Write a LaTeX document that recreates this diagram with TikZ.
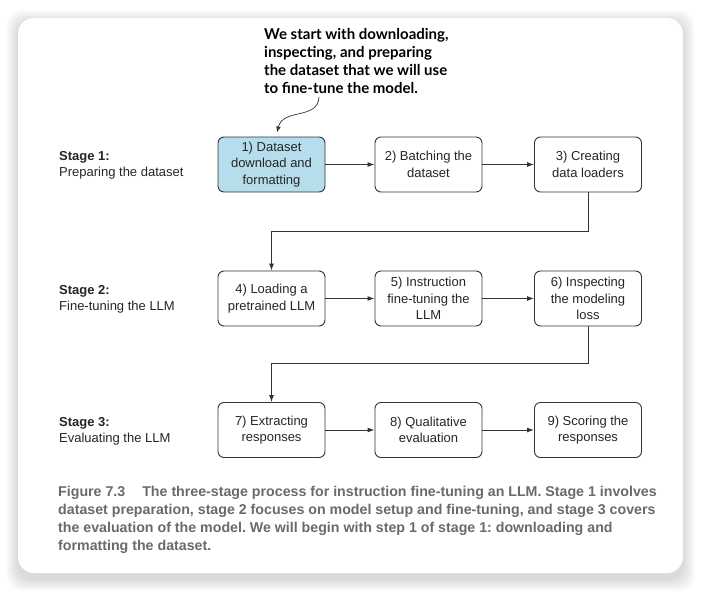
\documentclass[tikz,border=0pt]{standalone}
\usepackage{fontspec}
\setmainfont{Liberation Sans}
\newfontfamily\notefont{Lato}
\usetikzlibrary{arrows.meta}
\definecolor{boxblue}{HTML}{B5DDEB}
\definecolor{capgray}{HTML}{6A6A6A}
\definecolor{linegray}{HTML}{333333}
\frenchspacing
\begin{document}
\begin{tikzpicture}[x=1pt, y=-1pt,
        stepbox/.style={draw=linegray, line width=0.9pt, rounded corners=6pt, minimum width=107pt, minimum height=55pt, inner sep=0pt, align=center, text=black!85, font=\fontsize{13}{16.5}\selectfont},
        arr/.style={draw=linegray, line width=1pt, -{Latex[length=7pt,width=5pt]}},
        stagelbl/.style={anchor=base west, inner sep=0pt, text=black!85, font=\fontsize{13}{16}\selectfont}]

            \useasboundingbox (0, 0) rectangle (702, 592);

            \fill[white] (0, 0) rectangle (702, 592);

            \foreach \s in {1,...,12}
                \fill[black, opacity=0.013, rounded corners=16pt] (18-\s, 22-\s) rectangle (683+\s, 579+\s);

            \fill[white, rounded corners=16pt] (18, 18) rectangle (683, 573);

            \node[anchor=north west, inner sep=0pt, align=left, font=\notefont\bfseries\fontsize{15}{18.2}\selectfont] (note) at (264, 28) {We start with downloading,\\inspecting, and preparing\\the dataset that we will use\\to fine-tune the model.};

            \node[stagelbl] (s1) at (59, 160) {\textbf{Stage 1:}};
            \node[stagelbl] (s1b) at (59, 176) {Preparing the dataset};

            \node[stagelbl] (s2) at (59, 294) {\textbf{Stage 2:}};
            \node[stagelbl] (s2b) at (59, 310) {Fine-tuning the LLM};

            \node[stagelbl] (s3) at (59, 426) {\textbf{Stage 3:}};
            \node[stagelbl] (s3b) at (59, 442) {Evaluating the LLM};

            \node[stepbox, fill=boxblue] (dl) at (271.5, 164.5) {1) Dataset\\download and\\formatting};
            \node[stepbox] (batch) at (428.5, 164.5) {2) Batching the\\dataset};
            \node[stepbox] (loaders) at (588, 164.5) {3) Creating\\data loaders};

            \node[stepbox] (loadllm) at (271.5, 298.5) {4) Loading a\\pretrained LLM};
            \node[stepbox] (tune) at (428.5, 298.5) {5) Instruction\\fine-tuning the\\LLM};
            \node[stepbox] (loss) at (588, 298.5) {6) Inspecting\\the modeling\\loss};

            \node[stepbox] (extract) at (271.5, 430) {7) Extracting\\responses};
            \node[stepbox] (qual) at (428.5, 430) {8) Qualitative\\evaluation};
            \node[stepbox] (score) at (588, 430) {9) Scoring the\\responses};

            \draw[arr] (dl) -- (batch);
            \draw[arr] (batch) -- (loaders);
            \draw[arr] (loadllm) -- (tune);
            \draw[arr] (tune) -- (loss);
            \draw[arr] (extract) -- (qual);
            \draw[arr] (qual) -- (score);

            \draw[arr] (loaders.south) -- ++(0, 39) -| (loadllm.north);
            \draw[arr] (loss.south) -- ++(0, 37) -| (extract.north);

            \coordinate (notetail) at (319, 97);
            \draw[draw=linegray, line width=0.7pt, -{Latex[length=6pt,width=4.5pt]}] (notetail) .. controls (318, 120) and (283, 108) .. ([xshift=5.5pt, yshift=4pt]dl.north);

            \node[anchor=north west, inner sep=0pt, align=left, text=capgray, font=\bfseries\fontsize{14.2}{18}\selectfont] (cap) at (58, 486.5) {Figure 7.3\hspace{1.2em}The three-stage process for instruction fine-tuning an LLM. Stage 1 involves\\dataset preparation, stage 2 focuses on model setup and fine-tuning, and stage 3 covers\\the evaluation of the model. We will begin with step 1 of stage 1: downloading and\\formatting the dataset.};
        \end{tikzpicture}
\end{document}
